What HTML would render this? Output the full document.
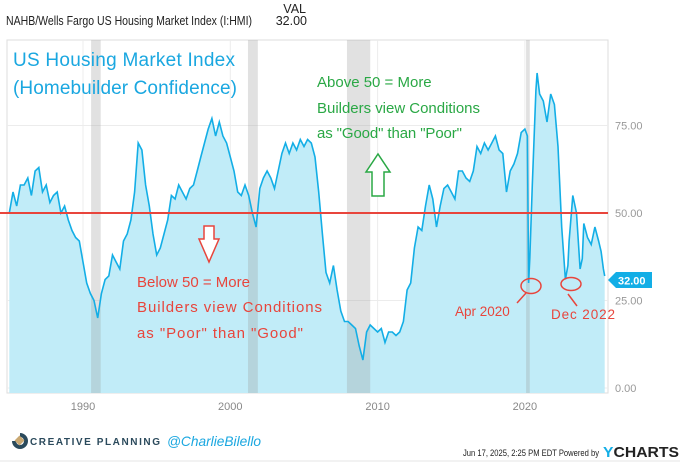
<!DOCTYPE html>
<html><head><meta charset="utf-8"><style>
body{margin:0;background:#fff;width:680px;height:463px;overflow:hidden;font-family:"Liberation Sans",sans-serif}
svg{display:block}
.hand{font-family:"Comic Sans MS","Liberation Sans",cursive;}
</style></head><body>
<svg width="680" height="463" xmlns="http://www.w3.org/2000/svg">
<text x="6" y="25" font-size="12.5" fill="#222" textLength="246" lengthAdjust="spacingAndGlyphs">NAHB/Wells Fargo US Housing Market Index (I:HMI)</text>
<text x="306" y="13" font-size="12.5" fill="#222" text-anchor="end">VAL</text>
<text x="307" y="25" font-size="12.5" fill="#222" text-anchor="end">32.00</text>
<rect x="7" y="40" width="601" height="353" fill="none" stroke="#ddd"/>
<g id="grid"></g>
<path id="area" fill="#c1ecf8"/>
<g id="rec"></g>
<path id="line" fill="none" stroke="#13aee6" stroke-width="1.6"/>
<line id="fifty" x1="0" x2="608" stroke="#e8453c" stroke-width="2"/>
<g id="yt"></g><g id="xt"></g>
<polygon points="608,280 616,272 652,272 652,288 616,288" fill="#13aee6"/>
<text x="618" y="284.5" font-size="11" font-weight="bold" fill="#fff">32.00</text>
<text class="hand" x="13" y="66" font-size="19" fill="#1aa7e0" textLength="222">US Housing Market Index</text>
<text class="hand" x="13" y="94" font-size="19" fill="#1aa7e0" textLength="224">(Homebuilder Confidence)</text>
<g class="hand" font-size="15" fill="#2aa845">
<text x="317" y="87">Above 50 = More</text><text x="317" y="113" textLength="163">Builders view Conditions</text><text x="317" y="138" textLength="145">as "Good" than "Poor"</text></g>
<polygon points="372,196 372,172 366,172 378,154 390,172 384,172 384,196" fill="#fff" stroke="#2aa845" stroke-width="1.5"/>
<polygon points="204,226 214,226 214,239 219,239 209,262 199,239 204,239" fill="#fff" stroke="#e8453c" stroke-width="1.5"/>
<g class="hand" font-size="15" fill="#e8453c">
<text x="137" y="287">Below 50 = More</text><text x="137" y="312" textLength="185">Builders view Conditions</text><text x="137" y="338" textLength="166">as "Poor" than "Good"</text></g>
<ellipse cx="531" cy="286" rx="10" ry="7.5" fill="none" stroke="#e8453c" stroke-width="1.5"/>
<line x1="517" y1="303" x2="526" y2="293" stroke="#e8453c" stroke-width="1.5"/>
<text class="hand" x="455" y="316" font-size="13.5" fill="#e8453c">Apr 2020</text>
<ellipse cx="571" cy="284" rx="10" ry="6.5" fill="none" stroke="#e8453c" stroke-width="1.5"/>
<line x1="568" y1="294" x2="577" y2="306" stroke="#e8453c" stroke-width="1.5"/>
<text class="hand" x="551" y="319" font-size="13.5" fill="#e8453c" textLength="64">Dec 2022</text>
<path d="M12 441 a8 8 0 1 0 8 -8 v4 a4 4 0 1 1 -4 4z" fill="#2b4a5c"/>
<rect x="16" y="437" width="7" height="7" transform="rotate(45 19.5 440.5)" fill="#c9a872"/>
<text x="30" y="445" font-size="10" font-weight="bold" fill="#2b4a5c" textLength="130" lengthAdjust="spacing">CREATIVE PLANNING</text>
<text class="hand" x="167" y="446" font-size="14" font-style="italic" fill="#1aa7e0" textLength="94" lengthAdjust="spacingAndGlyphs">@CharlieBilello</text>
<text x="463" y="456" font-size="9" fill="#222" textLength="136" lengthAdjust="spacingAndGlyphs">Jun 17, 2025, 2:25 PM EDT Powered by</text>
<text x="603" y="457" font-size="15" font-weight="bold" fill="#222" textLength="76" lengthAdjust="spacingAndGlyphs"><tspan fill="#13aee6">Y</tspan>CHARTS</text>
<line x1="0" y1="461" x2="680" y2="461" stroke="#e4e4e4"/>
</svg>
<script>
const years=[1985,1985.25,1985.5,1985.75,1986,1986.25,1986.5,1986.75,1987,1987.25,1987.5,1987.75,1988,1988.25,1988.5,1988.75,1989,1989.25,1989.5,1989.75,1990,1990.25,1990.5,1990.75,1991,1991.25,1991.5,1991.75,1992,1992.25,1992.5,1992.75,1993,1993.25,1993.5,1993.75,1994,1994.25,1994.5,1994.75,1995,1995.25,1995.5,1995.75,1996,1996.25,1996.5,1996.75,1997,1997.25,1997.5,1997.75,1998,1998.25,1998.5,1998.75,1999,1999.25,1999.5,1999.75,2000,2000.25,2000.5,2000.75,2001,2001.25,2001.5,2001.75,2002,2002.25,2002.5,2002.75,2003,2003.25,2003.5,2003.75,2004,2004.25,2004.5,2004.75,2005,2005.25,2005.5,2005.75,2006,2006.25,2006.5,2006.75,2007,2007.25,2007.5,2007.75,2008,2008.25,2008.5,2008.75,2009,2009.25,2009.5,2009.75,2010,2010.25,2010.5,2010.75,2011,2011.25,2011.5,2011.75,2012,2012.25,2012.5,2012.75,2013,2013.25,2013.5,2013.75,2014,2014.25,2014.5,2014.75,2015,2015.25,2015.5,2015.75,2016,2016.25,2016.5,2016.75,2017,2017.25,2017.5,2017.75,2018,2018.25,2018.5,2018.75,2019,2019.25,2019.5,2019.75,2020,2020.17,2020.25,2020.33,2020.5,2020.75,2020.83,2021,2021.25,2021.5,2021.75,2022,2022.25,2022.5,2022.75,2022.92,2023,2023.25,2023.5,2023.75,2023.9,2024,2024.25,2024.5,2024.75,2025,2025.17,2025.33,2025.42];
const values=[50,56,52,58,58,60,55,62,63,56,58,53,55,56,50,52,48,45,43,42,36,30,27,25,20,27,31,32,38,36,34,42,44,48,56,70,68,58,52,44,38,40,44,48,55,54,58,56,54,57,58,62,66,70,74,77,72,76,72,70,66,62,56,55,58,55,50,46,57,60,62,60,57,62,67,70,67,70,68,71,69,71,70,66,56,44,33,30,35,28,22,19,19,18,17,12,8,16,18,17,16,17,13,16,16,15,16,19,28,30,40,46,45,52,58,54,46,52,57,58,56,54,62,62,60,59,62,69,67,70,68,70,72,68,67,56,62,64,67,73,74,72,30,37,58,85,90,84,82,76,84,81,69,46,31,35,42,55,50,34,37,47,43,41,46,42,39,34,32];
const yTicks=[0,25,50,75];
const xTickYears=[1990,2000,2010,2020];
const recessions=[[1990.55,1991.2],[2001.2,2001.87],[2007.92,2009.5],[2020.08,2020.33]];
const X=y=>83+(y-1990)*14.73, Y=v=>388-3.5*v;
const ns="http://www.w3.org/2000/svg";
function mk(tag,attrs,parent,txt){const e=document.createElementNS(ns,tag);for(const k in attrs)e.setAttribute(k,attrs[k]);if(txt!==undefined)e.textContent=txt;document.getElementById(parent).appendChild(e);return e;}
yTicks.forEach(v=>{
 const l=mk('line',{x1:7,x2:608,y1:Y(v),y2:Y(v),stroke:'#ececec'},'grid');
 
 
 const t=mk('text',{x:615,y:Y(v)+4,'font-size':11,fill:'#999'},'yt',v.toFixed(2));
 
 
});
xTickYears.forEach(yr=>{
 const l=mk('line',{x1:X(yr),x2:X(yr),y1:40,y2:393,stroke:'#ececec'},'grid');
 
 
 const t=mk('text',{x:X(yr),y:410,'font-size':11,fill:'#888','text-anchor':'middle'},'xt',String(yr));
 
 
});
recessions.forEach(r=>{
 const b=mk('rect',{x:X(r[0]),y:40,width:X(r[1])-X(r[0]),height:353,fill:'#9a9a9a','fill-opacity':0.3},'rec');
 
 
});
let d='';years.forEach((yr,i)=>{d+=(i?'L':'M')+X(yr).toFixed(1)+' '+Y(values[i]).toFixed(1);});
document.getElementById('line').setAttribute('d',d);
document.getElementById('area').setAttribute('d',d+'L'+X(years[years.length-1]).toFixed(1)+' 393L'+X(years[0]).toFixed(1)+' 393Z');
const f=document.getElementById('fifty');f.setAttribute('y1',Y(50));f.setAttribute('y2',Y(50));
</script>
</body></html>
